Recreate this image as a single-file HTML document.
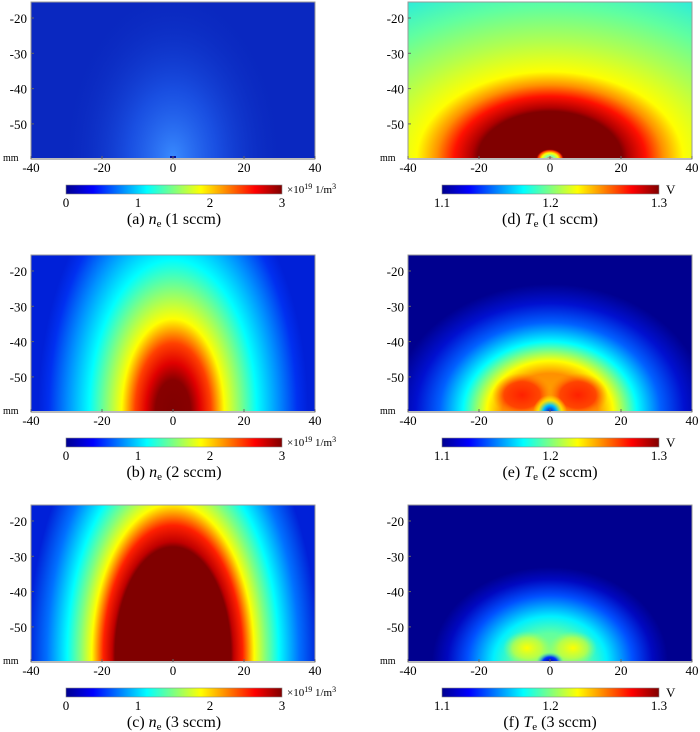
<!DOCTYPE html>
<html><head><meta charset="utf-8"><style>
html,body{margin:0;padding:0;background:#fff;overflow:hidden;}
svg{display:block;font-family:"Liberation Serif",serif;}
</style></head><body>
<svg width="700" height="732" viewBox="0 0 700 732" xmlns="http://www.w3.org/2000/svg">
<defs>
<linearGradient id="jet" x1="0" x2="1" y1="0" y2="0">
<stop offset="0" stop-color="#00008f"/><stop offset="0.125" stop-color="#0000ff"/><stop offset="0.375" stop-color="#00ffff"/><stop offset="0.625" stop-color="#ffff00"/><stop offset="0.875" stop-color="#ff0000"/><stop offset="1" stop-color="#800000"/>
</linearGradient>
<radialGradient id="ga"><stop offset="0" stop-color="#3a8cff"/><stop offset="0.4" stop-color="#2060f0" stop-opacity="0.7"/><stop offset="1" stop-color="#0c2cc0" stop-opacity="0"/></radialGradient>
<radialGradient id="gd">
<stop offset="0" stop-color="#800000"/><stop offset="0.25" stop-color="#800000"/><stop offset="0.27" stop-color="#b00000"/><stop offset="0.33" stop-color="#ff1000"/><stop offset="0.39" stop-color="#ff9000"/><stop offset="0.46" stop-color="#ffff00"/><stop offset="0.62" stop-color="#b0ff50"/><stop offset="0.8" stop-color="#60ffa0"/><stop offset="1" stop-color="#20e8e8"/></radialGradient>
<radialGradient id="gb">
<stop offset="0" stop-color="#800000"/><stop offset="0.13" stop-color="#880000"/><stop offset="0.2" stop-color="#e00000"/><stop offset="0.28" stop-color="#ff4000"/><stop offset="0.38" stop-color="#ffff00"/><stop offset="0.5" stop-color="#80ff80"/><stop offset="0.62" stop-color="#00ffff"/><stop offset="0.78" stop-color="#0090ff"/><stop offset="0.92" stop-color="#0030f0"/><stop offset="1" stop-color="#0020d8"/></radialGradient>
<radialGradient id="gc">
<stop offset="0" stop-color="#800000"/><stop offset="0.4" stop-color="#800000"/><stop offset="0.42" stop-color="#c00000"/><stop offset="0.48" stop-color="#ff2000"/><stop offset="0.56" stop-color="#ffff00"/><stop offset="0.64" stop-color="#80ff80"/><stop offset="0.73" stop-color="#00ffff"/><stop offset="0.87" stop-color="#0070ff"/><stop offset="1" stop-color="#0020d8"/></radialGradient>
<radialGradient id="ge">
<stop offset="0" stop-color="#ffb000"/><stop offset="0.3" stop-color="#ff9000"/><stop offset="0.4" stop-color="#ffff00"/><stop offset="0.55" stop-color="#00ffff"/><stop offset="0.7" stop-color="#0060ff"/><stop offset="0.85" stop-color="#0010d0"/><stop offset="1" stop-color="#00008f"/></radialGradient>
<radialGradient id="gf">
<stop offset="0" stop-color="#a0ff60"/><stop offset="0.3" stop-color="#60ffa0"/><stop offset="0.48" stop-color="#00f0ff"/><stop offset="0.7" stop-color="#0050ff"/><stop offset="0.87" stop-color="#0008c0"/><stop offset="1" stop-color="#00008f"/></radialGradient>
<radialGradient id="blobR"><stop offset="0" stop-color="#ff2000"/><stop offset="0.6" stop-color="#ff3000" stop-opacity="0.8"/><stop offset="1" stop-color="#ff8000" stop-opacity="0"/></radialGradient>
<radialGradient id="blobY"><stop offset="0" stop-color="#ffff00"/><stop offset="0.6" stop-color="#e0ff20" stop-opacity="0.6"/><stop offset="1" stop-color="#a0ff60" stop-opacity="0"/></radialGradient>
<radialGradient id="dip"><stop offset="0" stop-color="#0000c0"/><stop offset="0.4" stop-color="#00c0ff"/><stop offset="0.7" stop-color="#ffff00" stop-opacity="0.7"/><stop offset="1" stop-color="#ffff00" stop-opacity="0"/></radialGradient>
<radialGradient id="dipd"><stop offset="0" stop-color="#ff2000"/><stop offset="0.3" stop-color="#80ffb0"/><stop offset="0.6" stop-color="#ffff00"/><stop offset="0.85" stop-color="#ff3000"/><stop offset="1" stop-color="#900000" stop-opacity="0"/></radialGradient>
<radialGradient id="dipf"><stop offset="0" stop-color="#0000a0"/><stop offset="0.5" stop-color="#0030ff"/><stop offset="1" stop-color="#40ffc0" stop-opacity="0"/></radialGradient>
<clipPath id="cl"><rect x="31" y="0" width="284" height="157"/></clipPath>
<clipPath id="cr"><rect x="408" y="0" width="284" height="157"/></clipPath>
</defs>

<g transform="translate(0,2)">
<g clip-path="url(#cl)">
<rect x="31" y="0" width="284" height="157" fill="#0a28c0"/>
<ellipse cx="173" cy="157" rx="110" ry="170" fill="url(#ga)"/>
<rect x="170" y="154" width="6" height="3" fill="#0010a0"/>
</g>
<g clip-path="url(#cr)">
<rect x="408" y="0" width="284" height="157" fill="#20e8e8"/>
<ellipse cx="550" cy="157" rx="290" ry="190" fill="url(#gd)"/>
<ellipse cx="550" cy="157" rx="14" ry="10" fill="url(#dipd)"/>
</g>
</g>

<g transform="translate(0,255)">
<g clip-path="url(#cl)">
<rect x="31" y="0" width="284" height="157" fill="#0020d8"/>
<ellipse cx="173" cy="157" rx="135" ry="245" fill="url(#gb)"/>
</g>
<g clip-path="url(#cr)">
<rect x="408" y="0" width="284" height="157" fill="#00008f"/>
<ellipse cx="550" cy="157" rx="158" ry="128" fill="url(#ge)"/>
<ellipse cx="522" cy="140" rx="30" ry="22" fill="url(#blobR)"/>
<ellipse cx="578" cy="140" rx="30" ry="22" fill="url(#blobR)"/>
<ellipse cx="550" cy="157" rx="17" ry="17" fill="url(#dip)"/>
</g>
</g>

<g transform="translate(0,505)">
<g clip-path="url(#cl)">
<rect x="31" y="0" width="284" height="157" fill="#0020d8"/>
<ellipse cx="173" cy="150" rx="145" ry="270" fill="url(#gc)"/>
</g>
<g clip-path="url(#cr)">
<rect x="408" y="0" width="284" height="157" fill="#00008f"/>
<ellipse cx="550" cy="157" rx="118" ry="95" fill="url(#gf)"/>
<ellipse cx="527" cy="143" rx="24" ry="17" fill="url(#blobY)"/>
<ellipse cx="573" cy="143" rx="24" ry="17" fill="url(#blobY)"/>
<ellipse cx="550" cy="157" rx="14" ry="10" fill="url(#dipf)"/>
</g>
</g>
</svg>
<script>
(function(){
var svg=document.querySelector('svg');var NS='http://www.w3.org/2000/svg';
function el(t,a,txt){var e=document.createElementNS(NS,t);for(var k in a)e.setAttribute(k,a[k]);if(txt!=null)e.textContent=txt;svg.appendChild(e);return e;}
var rows=[2,255,505];
var capLetters=[["a","d"],["b","e"],["c","f"]];
rows.forEach(function(oy,r){
 [[31,173],[408,550]].forEach(function(p,c){
  var x0=p[0],w=284,h=157;
  el('rect',{x:x0,y:oy,width:w,height:h,fill:'none',stroke:'#999','stroke-width':1});
  el('line',{x1:x0,y1:oy+h,x2:x0+w,y2:oy+h,stroke:'#bbb','stroke-width':2});
  [-20,-30,-40,-50].forEach(function(v,i){
   var y=oy+16+i*35.3;
   el('text',{x:x0-4,y:y+5,'text-anchor':'end','font-size':13},String(v));
   el('line',{x1:x0,y1:y,x2:x0+3,y2:y,stroke:'#666'});
  });
  el('text',{x:x0-28,y:oy+h+2,'font-size':10},'mm');
  [-40,-20,0,20,40].forEach(function(v,i){
   var x=x0+i*w/4;
   el('text',{x:x,y:oy+h+13,'text-anchor':'middle','font-size':13},String(v));
   el('line',{x1:x,y1:oy+h,x2:x,y2:oy+h-3,stroke:'#666'});
  });
  var cb=c==0?[66,282]:[442,659];
  var cy=oy+183;
  el('rect',{x:cb[0],y:cy,width:cb[1]-cb[0],height:9,fill:'url(#jet)',stroke:'#888','stroke-width':0.6});
  var labs=c==0?['0','1','2','3']:['1.1','1.2','1.3'];
  labs.forEach(function(l,i){
   var x=cb[0]+i*(cb[1]-cb[0])/(labs.length-1);
   el('text',{x:x,y:cy+22,'text-anchor':'middle','font-size':13},l);
  });
  if(c==0){
   var t=el('text',{x:287,y:cy+8,'font-size':11});
   t.innerHTML='×10<tspan dy="-4" font-size="8">19</tspan><tspan dy="4"> 1/m</tspan><tspan dy="-4" font-size="8">3</tspan>';
  } else {
   el('text',{x:666,y:cy+9,'font-size':13},'V');
  }
  var cx=c==0?174:550;
  var t2=el('text',{x:cx,y:oy+222,'text-anchor':'middle','font-size':16});
  var L=capLetters[r][c];
  t2.innerHTML='('+L+') <tspan font-style="italic">'+(c==0?'n':'T')+'</tspan><tspan font-size="11" dy="3">e</tspan><tspan dy="-3"> ('+(r+1)+' sccm)</tspan>';
 });
});
})();
</script>
</body></html>
